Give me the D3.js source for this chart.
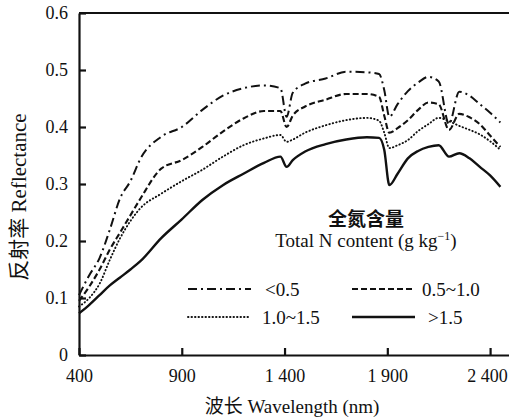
<!DOCTYPE html>
<html>
<head>
<meta charset="utf-8">
<script src="https://cdn.jsdelivr.net/npm/d3@7"></script>
<style>
  body { margin: 0; background: #fff; }
  svg text { fill: #111; }
</style>
</head>
<body>
<div id="chart"></div>
<script>
// --- data ---
const wavelengths = [400, 450, 500, 550, 600, 650, 700, 800, 900, 1000, 1100, 1200, 1300, 1380, 1410, 1440,
  1500, 1600, 1700, 1800, 1860, 1885, 1910, 1950, 2000, 2050, 2100, 2150, 2200, 2250, 2300, 2350, 2400, 2450];

const seriesNames = ["<0.5", "0.5~1.0", "1.0~1.5", ">1.5"];

const reflLt05 = [0.105, 0.14, 0.17, 0.22, 0.275, 0.305, 0.345, 0.383, 0.40, 0.43, 0.455, 0.468, 0.473, 0.468, 0.418, 0.46,
  0.476, 0.485, 0.497, 0.496, 0.493, 0.465, 0.418, 0.44, 0.463, 0.478, 0.488, 0.48, 0.405, 0.462, 0.455, 0.44, 0.425, 0.408];
const refl05to10 = [0.095, 0.12, 0.15, 0.185, 0.215, 0.245, 0.275, 0.327, 0.342, 0.365, 0.392, 0.415, 0.428, 0.428, 0.40, 0.42,
  0.436, 0.448, 0.458, 0.458, 0.453, 0.42, 0.39, 0.398, 0.412, 0.43, 0.443, 0.44, 0.395, 0.423, 0.417, 0.405, 0.385, 0.365];
const refl10to15 = [0.085, 0.10, 0.125, 0.167, 0.205, 0.235, 0.258, 0.283, 0.305, 0.325, 0.348, 0.368, 0.38, 0.386, 0.374, 0.378,
  0.39, 0.403, 0.412, 0.416, 0.411, 0.39, 0.363, 0.368, 0.377, 0.393, 0.405, 0.416, 0.41, 0.402, 0.395, 0.387, 0.375, 0.36];
const reflGt15 = [0.073, 0.088, 0.105, 0.122, 0.136, 0.15, 0.165, 0.205, 0.238, 0.272, 0.298, 0.318, 0.337, 0.348, 0.33, 0.342,
  0.357, 0.37, 0.378, 0.382, 0.381, 0.36, 0.298, 0.318, 0.345, 0.358, 0.365, 0.368, 0.348, 0.354, 0.345, 0.33, 0.315, 0.295];

const xTicks = [400, 900, 1400, 1900, 2400];
const xTickLabels = ["400", "900", "1 400", "1 900", "2 400"];
const yTicks = [0, 0.1, 0.2, 0.3, 0.4, 0.5, 0.6];
const yTickLabels = ["0", "0.1", "0.2", "0.3", "0.4", "0.5", "0.6"];

const serif = "'Liberation Serif', 'Times New Roman', 'DejaVu Serif', serif";
const cjk = "'Noto Sans CJK SC', sans-serif";

// --- setup ---
const width = 509, height = 419;
const margin = { top: 13, right: 0, bottom: 64, left: 79 };
const innerW = width - margin.left - margin.right;
const innerH = height - margin.top - margin.bottom;

const svg = d3.select("#chart").append("svg")
  .attr("width", width)
  .attr("height", height);

const g = svg.append("g").attr("transform", `translate(${margin.left},${margin.top})`);

const x = d3.scaleLinear().domain([400, 2492]).range([0, innerW]);
const y = d3.scaleLinear().domain([0, 0.6]).range([innerH, 0]);

// axes: ticks point inwards
const xAxis = g.append("g")
  .attr("transform", `translate(0,${innerH})`)
  .call(d3.axisBottom(x).tickValues(xTicks).tickSizeInner(-7).tickSizeOuter(0)
    .tickFormat((d, i) => xTickLabels[i]).tickPadding(14));
const yAxis = g.append("g")
  .call(d3.axisLeft(y).tickValues(yTicks).tickSizeInner(-7).tickSizeOuter(0)
    .tickFormat((d, i) => yTickLabels[i]).tickPadding(11));

[xAxis, yAxis].forEach(a => {
  a.attr("font-family", serif);
  a.select(".domain").attr("stroke", "#111").attr("stroke-width", 2.2);
  a.selectAll(".tick line").attr("stroke", "#111").attr("stroke-width", 2.2);
  a.selectAll(".tick text")
    .style("font-family", serif)
    .style("font-size", "18px")
    .attr("fill", "#111");
});
// last label sits against the right edge
xAxis.selectAll(".tick text").filter(d => d === 2400).attr("dx", -3);

// top border
g.append("line")
  .attr("x1", 0).attr("x2", innerW)
  .attr("y1", 0).attr("y2", 0)
  .attr("stroke", "#111").attr("stroke-width", 2.2);

// --- lines ---
const styles = [
  { dash: "9,4,2,4", w: 2, cap: "butt" },
  { dash: "6,3", w: 2.1, cap: "butt" },
  { dash: "0.5,3", w: 1.9, cap: "round" },
  { dash: null, w: 2.4, cap: "butt" }
];
const allRefl = [reflLt05, refl05to10, refl10to15, reflGt15];

const line = d3.line()
  .x((d, i) => x(wavelengths[i]))
  .y(d => y(d))
  .curve(d3.curveMonotoneX);

allRefl.forEach((vals, k) => {
  g.append("path")
    .datum(vals)
    .attr("fill", "none")
    .attr("stroke", "#111")
    .attr("stroke-width", styles[k].w)
    .attr("stroke-linecap", styles[k].cap)
    .attr("stroke-dasharray", styles[k].dash)
    .attr("d", line);
});

// --- legend ---
svg.append("text")
  .attr("x", 366).attr("y", 226)
  .attr("text-anchor", "middle")
  .style("font-family", cjk)
  .style("font-size", "19px").style("font-weight", "bold")
  .text("全氮含量");

const unitText = svg.append("text")
  .attr("x", 366).attr("y", 247)
  .attr("text-anchor", "middle")
  .style("font-family", serif)
  .style("font-size", "19px");
unitText.append("tspan").text("Total N content (g kg");
unitText.append("tspan").attr("dy", -7).style("font-size", "12px").text("−1");
unitText.append("tspan").attr("dy", 7).text(")");

const legendPos = [
  { lx: 188, ly: 289, tx: 265 },
  { lx: 352, ly: 289, tx: 422 },
  { lx: 188, ly: 317, tx: 262 },
  { lx: 352, ly: 317, tx: 428 }
];
seriesNames.forEach((name, k) => {
  const p = legendPos[k];
  svg.append("line")
    .attr("x1", p.lx).attr("x2", p.lx + 63)
    .attr("y1", p.ly).attr("y2", p.ly)
    .attr("stroke", "#111")
    .attr("stroke-width", styles[k].w)
    .attr("stroke-linecap", styles[k].cap)
    .attr("stroke-dasharray", styles[k].dash);
  svg.append("text")
    .attr("x", p.tx).attr("y", p.ly + 7)
    .style("font-family", serif)
    .style("font-size", "19px")
    .text(name);
});

// --- axis titles ---
const xTitle = svg.append("text")
  .attr("x", 292).attr("y", 413)
  .attr("text-anchor", "middle")
  .style("font-family", serif)
  .style("font-size", "19px");
xTitle.append("tspan").style("font-family", cjk).text("波长");
xTitle.append("tspan").text(" Wavelength (nm)");

const yTitle = svg.append("text")
  .attr("transform", "translate(26,197) rotate(-90)")
  .attr("text-anchor", "middle")
  .style("font-family", serif)
  .style("font-size", "21px");
yTitle.append("tspan").style("font-family", cjk).text("反射率");
yTitle.append("tspan").text(" Reflectance");
</script>
</body>
</html>
